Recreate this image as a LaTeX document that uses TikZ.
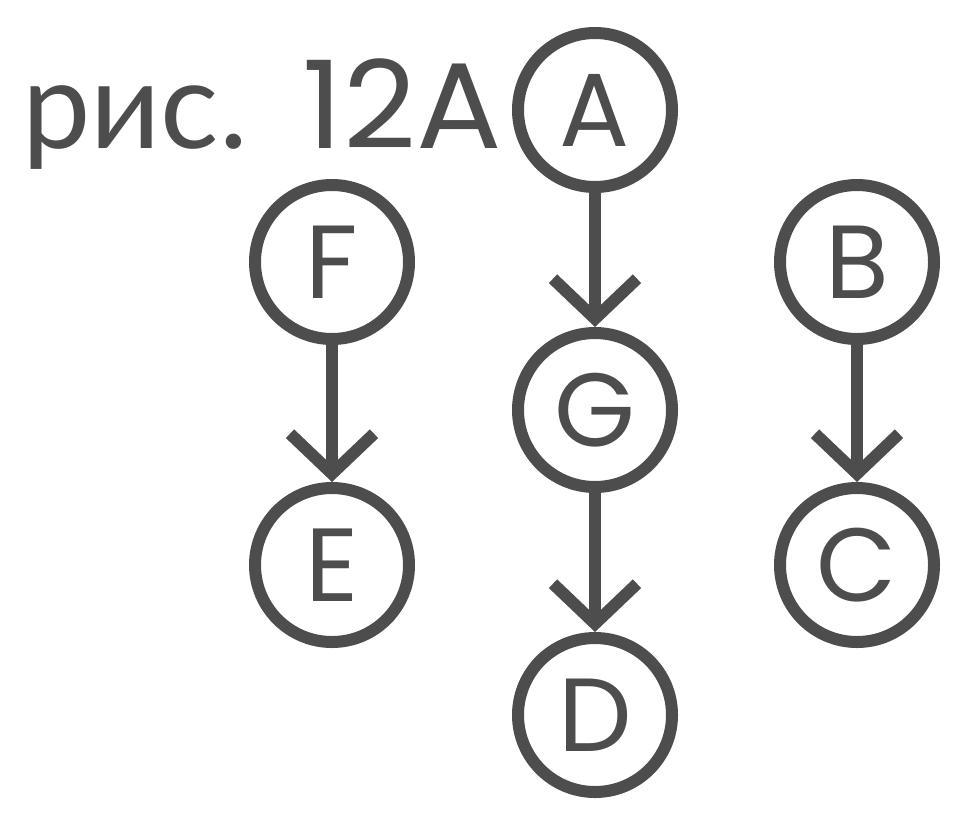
\documentclass[tikz,border=0pt]{standalone}
\usepackage{fontspec}
\setmainfont{Poppins}
\newfontfamily\cyrfont{Lato}
\usetikzlibrary{arrows.meta}
\definecolor{ink}{HTML}{4D4D4D}
\begin{document}
\begin{tikzpicture}[x=1pt,y=-1pt,
  vtx/.style={circle, draw=ink, line width=12pt, minimum size=154pt, inner sep=0pt, text=ink, font=\fontsize{104}{104}\selectfont},
  link/.style={draw=ink, line width=12pt, -{Straight Barb[sharp, length=40pt, width=84pt]}}]
\useasboundingbox (0,0) rectangle (960,820);
\node[vtx] (A) at (595,110) {A};
\node[vtx] (G) at (595,410) {G};
\node[vtx] (D) at (595,715) {D};
\node[vtx] (F) at (332,262) {F};
\node[vtx] (E) at (332,565) {E};
\node[vtx] (B) at (857,262) {B};
\node[vtx] (C) at (857,565) {C};
\node[anchor=base west, text=ink, inner sep=0pt, font=\fontsize{122}{122}\selectfont] (title) at (22,148) {{\cyrfont рис.}\hspace{55pt}\scalebox{1.04}[1]{12A}};
\draw[link] (A) -- (G);
\draw[link] (G) -- (D);
\draw[link] (F) -- (E);
\draw[link] (B) -- (C);
\end{tikzpicture}
\end{document}
